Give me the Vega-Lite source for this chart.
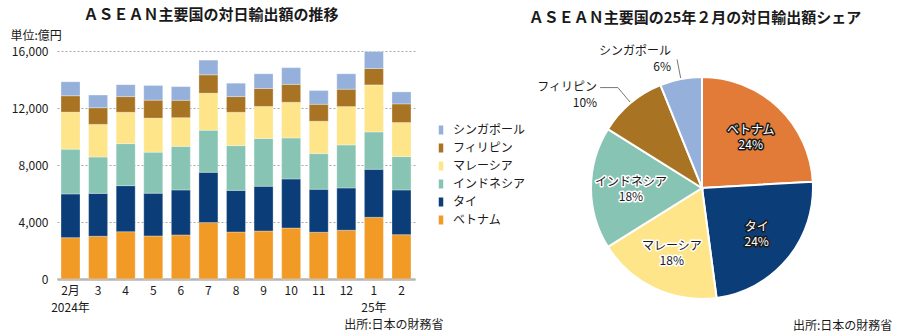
{
  "$schema": "https://vega.github.io/schema/vega-lite/v6.json",
  "padding": {"left": 10, "top": 8, "right": 0, "bottom": 0},
  "bounds": "flush",
  "spacing": 176,
  "resolve": {"scale": {"color": "independent"}},
  "title": {"text": "出所:日本の財務省", "orient": "bottom", "anchor": "end", "frame": "bounds", "offset": -9, "dx": 31, "fontSize": 12, "fontWeight": "normal", "color": "#1a1a1a"},
  "config": {
    "font": "Noto Sans CJK JP",
    "view": {"stroke": null},
    "axis": {"labelColor": "#1a1a1a", "titleColor": "#1a1a1a", "labelFontSize": 12, "titleFontSize": 12, "titleFontWeight": "normal"},
    "title": {"color": "#1a1a1a", "fontSize": 15, "fontWeight": "bold"}
  },
  "datasets": {
    "exports": [
      {"month": "2月", "country": "ベトナム", "value": 2900}, {"month": "2月", "country": "タイ", "value": 3070}, {"month": "2月", "country": "インドネシア", "value": 3140}, {"month": "2月", "country": "マレーシア", "value": 2600}, {"month": "2月", "country": "フィリピン", "value": 1150}, {"month": "2月", "country": "シンガポール", "value": 980},
      {"month": "3", "country": "ベトナム", "value": 3000}, {"month": "3", "country": "タイ", "value": 3010}, {"month": "3", "country": "インドネシア", "value": 2550}, {"month": "3", "country": "マレーシア", "value": 2290}, {"month": "3", "country": "フィリピン", "value": 1170}, {"month": "3", "country": "シンガポール", "value": 890},
      {"month": "4", "country": "ベトナム", "value": 3320}, {"month": "4", "country": "タイ", "value": 3230}, {"month": "4", "country": "インドネシア", "value": 2950}, {"month": "4", "country": "マレーシア", "value": 2200}, {"month": "4", "country": "フィリピン", "value": 1100}, {"month": "4", "country": "シンガポール", "value": 840},
      {"month": "5", "country": "ベトナム", "value": 3020}, {"month": "5", "country": "タイ", "value": 3000}, {"month": "5", "country": "インドネシア", "value": 2880}, {"month": "5", "country": "マレーシア", "value": 2390}, {"month": "5", "country": "フィリピン", "value": 1260}, {"month": "5", "country": "シンガポール", "value": 1030},
      {"month": "6", "country": "ベトナム", "value": 3090}, {"month": "6", "country": "タイ", "value": 3160}, {"month": "6", "country": "インドネシア", "value": 3060}, {"month": "6", "country": "マレーシア", "value": 2010}, {"month": "6", "country": "フィリピン", "value": 1220}, {"month": "6", "country": "シンガポール", "value": 960},
      {"month": "7", "country": "ベトナム", "value": 3960}, {"month": "7", "country": "タイ", "value": 3530}, {"month": "7", "country": "インドネシア", "value": 2950}, {"month": "7", "country": "マレーシア", "value": 2600}, {"month": "7", "country": "フィリピン", "value": 1290}, {"month": "7", "country": "シンガポール", "value": 1030},
      {"month": "8", "country": "ベトナム", "value": 3300}, {"month": "8", "country": "タイ", "value": 2920}, {"month": "8", "country": "インドネシア", "value": 3140}, {"month": "8", "country": "マレーシア", "value": 2340}, {"month": "8", "country": "フィリピン", "value": 1100}, {"month": "8", "country": "シンガポール", "value": 940},
      {"month": "9", "country": "ベトナム", "value": 3370}, {"month": "9", "country": "タイ", "value": 3140}, {"month": "9", "country": "インドネシア", "value": 3350}, {"month": "9", "country": "マレーシア", "value": 2250}, {"month": "9", "country": "フィリピン", "value": 1260}, {"month": "9", "country": "シンガポール", "value": 1030},
      {"month": "10", "country": "ベトナム", "value": 3580}, {"month": "10", "country": "タイ", "value": 3440}, {"month": "10", "country": "インドネシア", "value": 2880}, {"month": "10", "country": "マレーシア", "value": 2500}, {"month": "10", "country": "フィリピン", "value": 1260}, {"month": "10", "country": "シンガポール", "value": 1170},
      {"month": "11", "country": "ベトナム", "value": 3280}, {"month": "11", "country": "タイ", "value": 3020}, {"month": "11", "country": "インドネシア", "value": 2500}, {"month": "11", "country": "マレーシア", "value": 2270}, {"month": "11", "country": "フィリピン", "value": 1190}, {"month": "11", "country": "シンガポール", "value": 960},
      {"month": "12", "country": "ベトナム", "value": 3420}, {"month": "12", "country": "タイ", "value": 2970}, {"month": "12", "country": "インドネシア", "value": 3020}, {"month": "12", "country": "マレーシア", "value": 2690}, {"month": "12", "country": "フィリピン", "value": 1220}, {"month": "12", "country": "シンガポール", "value": 1080},
      {"month": "1", "country": "ベトナム", "value": 4330}, {"month": "1", "country": "タイ", "value": 3370}, {"month": "1", "country": "インドネシア", "value": 2620}, {"month": "1", "country": "マレーシア", "value": 3300}, {"month": "1", "country": "フィリピン", "value": 1150}, {"month": "1", "country": "シンガポール", "value": 1190},
      {"month": "2", "country": "ベトナム", "value": 3110}, {"month": "2", "country": "タイ", "value": 3140}, {"month": "2", "country": "インドネシア", "value": 2340}, {"month": "2", "country": "マレーシア", "value": 2390}, {"month": "2", "country": "フィリピン", "value": 1310}, {"month": "2", "country": "シンガポール", "value": 840}
    ],
    "share": [
      {"country": "ベトナム", "share": 24.1},
      {"country": "タイ", "share": 23.8},
      {"country": "マレーシア", "share": 18.2},
      {"country": "インドネシア", "share": 17.8},
      {"country": "フィリピン", "share": 10.0},
      {"country": "シンガポール", "share": 6.1}
    ]
  },
  "hconcat": [
    {
      "width": 358,
      "height": 228,
      "title": {"text": "ＡＳＥＡＮ主要国の対日輸出額の推移", "anchor": "middle", "frame": "group", "dx": -25, "offset": 6},
      "data": {"name": "exports"},
      "transform": [
        {"calculate": "indexof(['ベトナム','タイ','インドネシア','マレーシア','フィリピン','シンガポール'], datum.country)", "as": "idx"}
      ],
      "mark": {"type": "bar", "stroke": "white", "strokeWidth": 0.6, "strokeOpacity": 0.5},
      "encoding": {
        "x": {
          "field": "month", "type": "nominal",
          "sort": ["2月", "3", "4", "5", "6", "7", "8", "9", "10", "11", "12", "1", "2"],
          "scale": {"paddingInner": 0.311, "paddingOuter": 0.146},
          "axis": {
            "labelAngle": 0, "ticks": false, "domainColor": "#b5b5b5", "domainWidth": 2.5,
            "labelPadding": 6, "labelLineHeight": 17, "labelBaseline": "top",
            "labelExpr": "datum.value == '2月' ? ['2月', '2024年'] : datum.value == '1' ? ['1', '25年'] : datum.value",
            "title": "出所:日本の財務省", "titleX": 386, "titleY": 45, "titleAlign": "right", "titleBaseline": "middle", "titleAnchor": "end"
          }
        },
        "y": {
          "field": "value", "type": "quantitative", "stack": "zero",
          "scale": {"domain": [0, 16000], "nice": false},
          "axis": {
            "values": [0, 4000, 8000, 12000, 16000], "format": ",.0f", "domain": false, "ticks": false,
            "labelPadding": 9, "gridDash": [2, 2], "gridColor": "#a8a8a8", "gridWidth": 1,
            "title": "単位:億円", "titleAngle": 0, "titleAlign": "left", "titleBaseline": "middle", "titleX": -47, "titleY": -16, "titleAnchor": "start"
          }
        },
        "color": {
          "field": "country", "type": "nominal",
          "scale": {
            "domain": ["シンガポール", "フィリピン", "マレーシア", "インドネシア", "タイ", "ベトナム"],
            "range": ["#95B0DB", "#A87424", "#FEE589", "#88C4B4", "#0B3D78", "#F29A26"]
          },
          "legend": {
            "orient": "none", "legendX": 378, "legendY": 73, "title": null, "padding": 0,
            "symbolType": "M-0.5,-1H0.5V1H-0.5Z", "symbolSize": 81, "symbolStrokeWidth": 0, "symbolOpacity": 1,
            "labelFontSize": 12, "labelColor": "#1a1a1a", "rowPadding": 6, "labelOffset": 6
          }
        },
        "order": {"field": "idx", "type": "quantitative"}
      }
    },
    {
      "width": 222,
      "height": 248,
      "title": {"text": "ＡＳＥＡＮ主要国の25年２月の対日輸出額シェア", "anchor": "middle", "frame": "group", "dx": -7, "offset": 19},
      "data": {"name": "share"},
      "transform": [
        {"calculate": "indexof(['ベトナム','タイ','マレーシア','インドネシア','フィリピン','シンガポール'], datum.country)", "as": "idx"},
        {"joinaggregate": [{"op": "sum", "field": "share", "as": "total"}]},
        {"window": [{"op": "sum", "field": "share", "as": "cum"}], "sort": [{"field": "idx", "order": "ascending"}], "frame": [null, 0]},
        {"calculate": "2*PI*(datum.cum - datum.share/2)/datum.total", "as": "mid"},
        {"calculate": "sin(datum.mid)", "as": "x1"},
        {"calculate": "cos(datum.mid)", "as": "y1"},
        {"calculate": "1.18*sin(datum.mid)", "as": "x2"},
        {"calculate": "1.18*cos(datum.mid)", "as": "y2"},
        {"calculate": "datum.x2 - 0.16", "as": "x3"},
        {"calculate": "0.64*sin(datum.mid)", "as": "lx"},
        {"calculate": "0.64*cos(datum.mid)", "as": "ly"},
        {"calculate": "[datum.country, format(datum.share, '.0f') + '%']", "as": "label"}
      ],
      "layer": [
        {
          "transform": [{"filter": "datum.idx >= 4"}],
          "mark": {"type": "rule", "color": "#555555", "strokeWidth": 0.8},
          "encoding": {
            "x": {"field": "x1", "type": "quantitative", "scale": {"domain": [-1, 1], "nice": false, "zero": false}, "axis": null},
            "y": {"field": "y1", "type": "quantitative", "scale": {"domain": [-1, 1.234], "nice": false, "zero": false}, "axis": null},
            "x2": {"field": "x2"},
            "y2": {"field": "y2"}
          }
        },
        {
          "transform": [{"filter": "datum.country == 'フィリピン'"}],
          "mark": {"type": "rule", "color": "#555555", "strokeWidth": 0.8},
          "encoding": {
            "x": {"field": "x2", "type": "quantitative", "scale": {"domain": [-1, 1], "nice": false, "zero": false}, "axis": null},
            "x2": {"field": "x3"},
            "y": {"field": "y2", "type": "quantitative", "scale": {"domain": [-1, 1.234], "nice": false, "zero": false}, "axis": null}
          }
        },
        {
          "mark": {"type": "arc", "outerRadius": 111, "stroke": "white", "strokeWidth": 2},
          "encoding": {
            "x": {"datum": 0, "type": "quantitative", "scale": {"domain": [-1, 1], "nice": false, "zero": false}, "axis": null},
            "y": {"datum": 0, "type": "quantitative", "scale": {"domain": [-1, 1.234], "nice": false, "zero": false}, "axis": null},
            "theta": {"field": "share", "type": "quantitative", "stack": true},
            "order": {"field": "idx", "type": "quantitative"},
            "color": {
              "field": "country", "type": "nominal",
              "scale": {
                "domain": ["ベトナム", "タイ", "マレーシア", "インドネシア", "フィリピン", "シンガポール"],
                "range": ["#E27B38", "#0B3D78", "#FEE589", "#88C4B4", "#A87424", "#95B0DB"]
              },
              "legend": null
            }
          }
        },
        {
          "transform": [{"filter": "datum.idx < 4"}],
          "mark": {"type": "text", "fontSize": 12, "lineHeight": 15, "strokeWidth": 3, "strokeJoin": "round", "baseline": "middle", "dy": -6},
          "encoding": {
            "x": {"field": "lx", "type": "quantitative", "scale": {"domain": [-1, 1], "nice": false, "zero": false}, "axis": null},
            "y": {"field": "ly", "type": "quantitative", "scale": {"domain": [-1, 1.234], "nice": false, "zero": false}, "axis": null},
            "text": {"field": "label"},
            "stroke": {"condition": {"test": "datum.idx < 2", "value": "#1a1a1a"}, "value": "white"},
            "fill": {"condition": {"test": "datum.idx < 2", "value": "#1a1a1a"}, "value": "white"}
          }
        },
        {
          "transform": [{"filter": "datum.idx < 4"}],
          "mark": {"type": "text", "fontSize": 12, "lineHeight": 15, "baseline": "middle", "dy": -6},
          "encoding": {
            "x": {"field": "lx", "type": "quantitative", "scale": {"domain": [-1, 1], "nice": false, "zero": false}, "axis": null},
            "y": {"field": "ly", "type": "quantitative", "scale": {"domain": [-1, 1.234], "nice": false, "zero": false}, "axis": null},
            "text": {"field": "label"},
            "fill": {"condition": {"test": "datum.idx < 2", "value": "white"}, "value": "#1a1a1a"}
          }
        },
        {
          "transform": [{"filter": "datum.country == 'シンガポール'"}],
          "mark": {"type": "text", "fontSize": 12, "lineHeight": 16, "baseline": "middle", "align": "right", "dx": -6, "dy": -8, "color": "#1a1a1a"},
          "encoding": {
            "x": {"field": "x2", "type": "quantitative", "scale": {"domain": [-1, 1], "nice": false, "zero": false}, "axis": null},
            "y": {"field": "y2", "type": "quantitative", "scale": {"domain": [-1, 1.234], "nice": false, "zero": false}, "axis": null},
            "text": {"field": "label"}
          }
        },
        {
          "transform": [{"filter": "datum.country == 'フィリピン'"}],
          "mark": {"type": "text", "fontSize": 12, "lineHeight": 16, "baseline": "middle", "align": "right", "dx": -3, "dy": -1, "color": "#1a1a1a"},
          "encoding": {
            "x": {"field": "x3", "type": "quantitative", "scale": {"domain": [-1, 1], "nice": false, "zero": false}, "axis": null},
            "y": {"field": "y2", "type": "quantitative", "scale": {"domain": [-1, 1.234], "nice": false, "zero": false}, "axis": null},
            "text": {"field": "label"}
          }
        }
      ]
    }
  ]
}
